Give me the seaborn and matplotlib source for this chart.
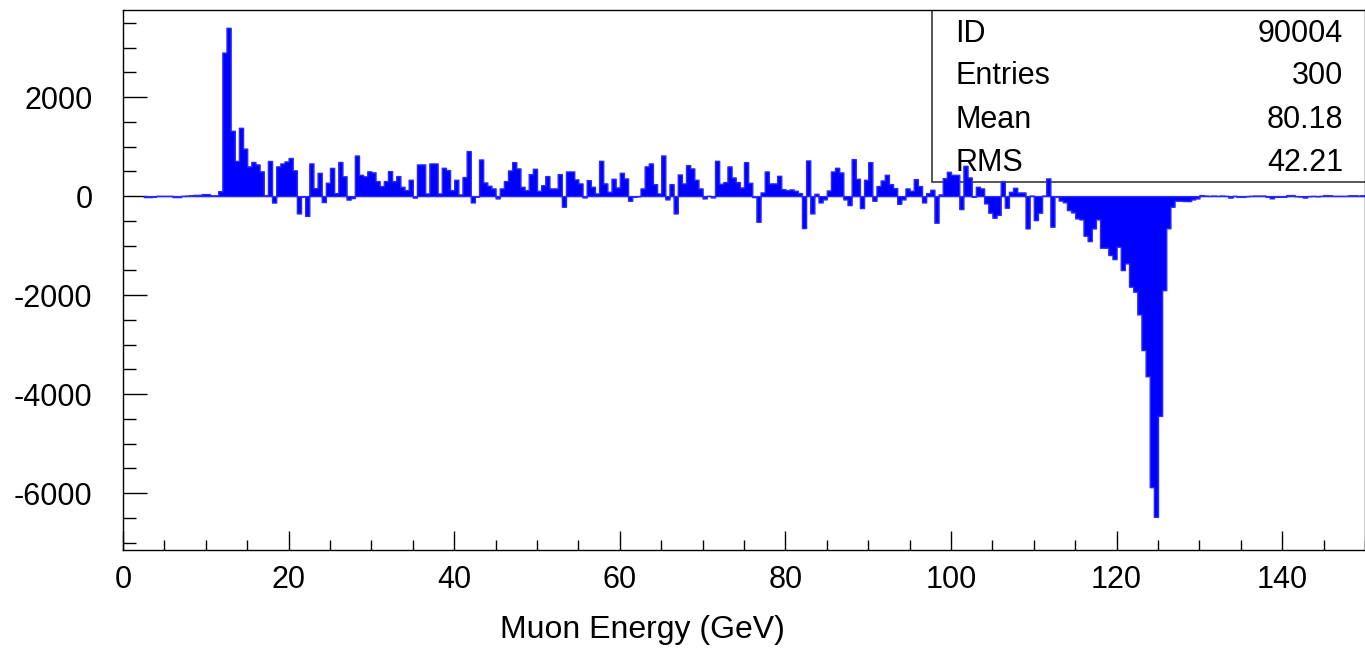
import numpy as np
import pandas as pd
import matplotlib
matplotlib.use("Agg")
import matplotlib.pyplot as plt
import seaborn as sns
from matplotlib.ticker import MultipleLocator, FixedLocator
from matplotlib.patches import Rectangle

# ---------------- data (0.5 GeV bins, first filled bin starts at 2.5 GeV) ----------------
first_bin_gev = 2.5
bin_width = 0.5

counts_2_12 = [-20, -20, -10, 5, 5, 5, 5, -20, -20, 5, 10, 15, 25, 25, 40, 40, 15, 15, 100]
counts_12_30 = [2900, 3400, 1320, 710, 1380, 960,
                600, 690, 640, 500, 20, 710, -130, 600, 660, 700, 770, 520, -350, -10, -400,
                660, 160, 470, -120, 270, 570, 60, 690, 400, -70, -40, 820, 430, 400, 500, 480]
counts_30_46 = [303, 202, 303, 505, 303, 404, 188, 121, 330, -30, 640, 640, 54, 660, 660, 54,
                572, 525, 121, 330, 34, 384, 909, -128, -10, 740, 276, 209, 155, -47, 155]
counts_46_61 = [303, 518, 686, 559, 188, 121, 444, 552, 108, 220, 404, 155, 155, 444, -215,
                498, 498, 337, 256, -27, 323, 188, 54, 713, 256, 87, 350, 175, 471, 357]
counts_61_76 = [-94, -13, 0, 155, 600, 660, 242, 54, 821, -67, 242, -350, 437, 256, 626,
                559, 330, 155, -47, 5, -27, 713, 249, 283, 600, 377, 283, 175, 686, 269]
counts_76_91 = [-20, -518, 74, 498, 256, 256, 410, 141, 121, 135, 108, 61, -646, 720, -350,
                47, -128, -67, 114, 498, 572, 478, -67, -182, 747, 350, -242, 330, 686, -94]
counts_91_105 = [202, 316, 430, 242, 161, -155, -67, 155, 108, 343, 202, -128, 61, 128, -538,
                 34, 363, 491, 430, 430, -262, 612, 377, -13, 188, 155, -148, -336, -437]
counts_105_116 = [-380, 303, -235, 87, 168, 74, 74, -653, 10, -485, -336, 10, 357, -619,
                  -13, -90, -125, -283, -330, -451, -471]
counts_116_130 = [-800, -909, -653, -471, -1043, -1043, -1191, -1272, -1023, -1494, -1359,
                  -1830, -1931, -2390, -3110, -3640, -5880, -6480, -4440, -1900, -650, -215,
                  -94, -94, -100, -100, -67, -47, 20]
counts_130_150 = [10, 5, 10, 5, 10, 5, -30, 5, -15, -15, 0, 5, 10, 10, 10, -15, -45, -15, -15,
                  -10, 20, 20, 0, -5, -30, 0, 5, 0, 5, 20, 15, 5, 5, 5, 5, 15, 15, 10, 15]

stats_labels = ["ID", "Entries", "Mean", "RMS"]
stats_values = ["90004", "300", "80.18", "42.21"]
x_title = "Muon Energy (GeV)"
x_major_ticks = [0, 20, 40, 60, 80, 100, 120, 140]

counts = np.concatenate([counts_2_12, counts_12_30, counts_30_46, counts_46_61, counts_61_76,
                         counts_76_91, counts_91_105, counts_105_116, counts_116_130,
                         counts_130_150]).astype(float)
n_bins = len(counts)
last_edge = first_bin_gev + bin_width * n_bins
centers = first_bin_gev + bin_width * (np.arange(n_bins) + 0.5)
df = pd.DataFrame({"energy": centers, "weight": counts})

# ---------------- style ----------------
sns.set_style("ticks")
plt.rcParams["font.family"] = ["Liberation Sans", "DejaVu Sans"]
plt.rcParams["axes.unicode_minus"] = False

FS = 22
W, H = 1365, 651
fig = plt.figure(figsize=(W / 100, H / 100), dpi=100)
ax = fig.add_axes([123 / W, (H - 550) / H, 1242 / W, 540 / H])

sns.histplot(data=df, x="energy", weights="weight", binwidth=bin_width,
             binrange=(first_bin_gev, last_edge), element="step",
             fill=True, color="#0000ff", edgecolor="#2a2aff", linewidth=1.0,
             alpha=1, ax=ax, zorder=3)

ax.set_xlim(0, 150)
ax.set_ylim(-7150, 3760)
ax.set_ylabel("")
ax.set_xlabel(x_title, fontsize=23, color="black")
ax.xaxis.set_label_coords((642 - 123) / 1242, (550 - 615) / 540)

ax.xaxis.set_major_locator(FixedLocator(x_major_ticks))
ax.xaxis.set_minor_locator(MultipleLocator(5))
ax.yaxis.set_major_locator(MultipleLocator(2000))
ax.yaxis.set_minor_locator(MultipleLocator(500))

ax.tick_params(axis="both", which="both", direction="in", top=False, right=False,
               colors="black", width=1.0)
ax.tick_params(axis="y", which="major", length=17, pad=22, labelsize=FS)
ax.tick_params(axis="y", which="minor", length=9)
ax.tick_params(axis="x", which="major", length=14, pad=11, labelsize=FS)
ax.tick_params(axis="x", which="minor", length=7)

for s in ax.spines.values():
    s.set_visible(True)
    s.set_color("black")
    s.set_linewidth(1.0)
ax.grid(False)

# stats box (drawn beneath the bars, like the reference)
bx0 = (932 - 123) / 1242
by0 = (550 - 182) / 540
ax.add_patch(Rectangle((bx0, by0), 1.0 - bx0 + 0.01, 1.0 - by0 + 0.01, transform=ax.transAxes,
                       facecolor="white", edgecolor="#3a3a3a", linewidth=1.2, zorder=1,
                       clip_on=True))
row_y = [34, 76, 120, 163]
for lab, val, yy in zip(stats_labels, stats_values, row_y):
    ya = (550 - yy) / 540
    ax.text((955 - 123) / 1242, ya, lab, transform=ax.transAxes, ha="left", va="center",
            fontsize=FS, color="black", zorder=2)
    ax.text((1343 - 123) / 1242, ya, val, transform=ax.transAxes, ha="right", va="center",
            fontsize=FS, color="black", zorder=2)

fig.savefig("out.png", dpi=100)
